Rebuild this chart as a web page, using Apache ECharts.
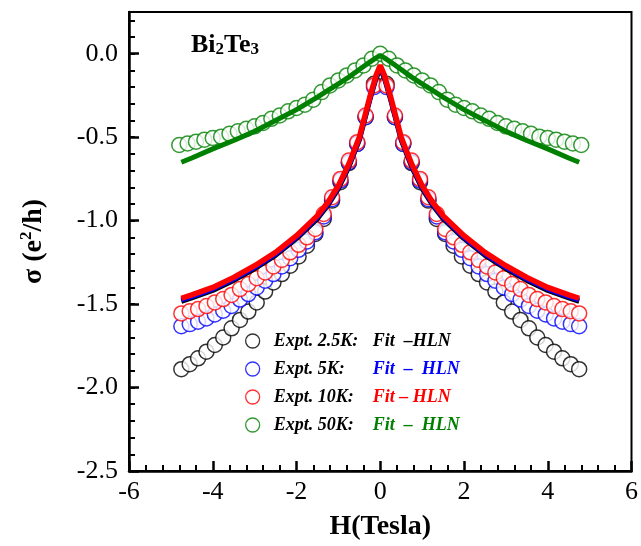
<!DOCTYPE html>
<html>
<head>
<meta charset="utf-8">
<script src="https://cdn.jsdelivr.net/npm/echarts@6/dist/echarts.min.js"></script>
<style>
  html, body { margin: 0; padding: 0; background: #fff; }
  #chart { width: 641px; height: 546px; }
</style>
</head>
<body>
<div id="chart"></div>
<script>
// field values (right half, curves are symmetric in H)
var exptH = [0.15, 0.35, 0.55, 0.75, 0.95, 1.15, 1.35, 1.55, 1.75, 1.95, 2.15, 2.35,
             2.55, 2.75, 2.95, 3.15, 3.35, 3.55, 3.75, 3.95, 4.15, 4.35, 4.55, 4.75];
var sigma2_5K = [-0.18, -0.38, -0.54, -0.655, -0.77, -0.88, -0.99, -1.08, -1.15, -1.215, -1.27, -1.32,
                 -1.37, -1.425, -1.49, -1.545, -1.595, -1.645, -1.70, -1.745, -1.785, -1.825, -1.86, -1.89];
var sigma5K = [-0.20, -0.38, -0.54, -0.65, -0.76, -0.872, -0.975, -1.07, -1.125, -1.175, -1.225, -1.275,
               -1.32, -1.36, -1.40, -1.44, -1.473, -1.511, -1.54, -1.562, -1.586, -1.606, -1.62, -1.633];
var sigma10K = [-0.19, -0.37, -0.53, -0.64, -0.75, -0.86, -0.96, -1.05, -1.10, -1.145, -1.19, -1.235,
                -1.275, -1.31, -1.345, -1.38, -1.41, -1.445, -1.47, -1.49, -1.512, -1.53, -1.543, -1.556];

var greenH = [0, 0.2, 0.4, 0.6, 0.8, 1.0, 1.2, 1.4, 1.6, 1.8, 2.0, 2.2, 2.4,
              2.6, 2.8, 3.0, 3.2, 3.4, 3.6, 3.8, 4.0, 4.2, 4.4, 4.6, 4.8];
var sigma50K = [0.0, -0.03, -0.07, -0.10, -0.13, -0.16, -0.19, -0.23, -0.275, -0.305, -0.325, -0.345, -0.37,
                -0.39, -0.415, -0.435, -0.45, -0.465, -0.48, -0.497, -0.505, -0.515, -0.527, -0.538, -0.547];

// HLN fits
var fitH = [0, 0.1, 0.25, 0.5, 0.75, 1.0, 1.25, 1.5, 2.0, 2.5, 3.0, 3.5, 4.0, 4.5, 4.75];
var fit2_5K = [-0.088, -0.148, -0.278, -0.518, -0.678, -0.808, -0.908, -0.988, -1.108, -1.208, -1.288, -1.358, -1.418, -1.463, -1.483];
var fit5K = [-0.08, -0.14, -0.27, -0.51, -0.67, -0.80, -0.90, -0.98, -1.10, -1.20, -1.28, -1.35, -1.41, -1.455, -1.475];
var fit10K = [-0.07, -0.13, -0.26, -0.50, -0.66, -0.79, -0.89, -0.97, -1.09, -1.19, -1.27, -1.34, -1.40, -1.445, -1.465];
var fit50K = [-0.01, -0.025, -0.05, -0.095, -0.14, -0.18, -0.22, -0.26, -0.335, -0.40, -0.465, -0.52, -0.57, -0.625, -0.65];

var xTicks = [-6, -4, -2, 0, 2, 4, 6];
var yTicks = [-2.5, -2.0, -1.5, -1.0, -0.5, 0.0];

var names = ['Expt. 2.5K:', 'Expt. 5K:', 'Expt. 10K:', 'Expt. 50K:'];
var fitText = ['Fit  \u2013HLN', 'Fit  \u2013  HLN', 'Fit \u2013 HLN', 'Fit  \u2013  HLN'];
var colors = ['#000000', '#0000ff', '#ff0000', '#008000'];
var richKeys = ['k', 'b', 'r', 'g'];

function mirror(hs, vs) {
  var pts = [];
  for (var i = hs.length - 1; i >= 0; i--) {
    if (hs[i] !== 0) pts.push([-hs[i], vs[i]]);
  }
  for (var j = 0; j < hs.length; j++) pts.push([hs[j], vs[j]]);
  return pts;
}

var font = 'Liberation Serif, Times New Roman, serif';
var myChart = echarts.init(document.getElementById('chart'));

var exptData = [
  mirror(exptH, sigma2_5K),
  mirror(exptH, sigma5K),
  mirror(exptH, sigma10K),
  mirror(greenH, sigma50K)
];
var fitData = [
  mirror(fitH, fit2_5K),
  mirror(fitH, fit5K),
  mirror(fitH, fit10K),
  mirror(fitH, fit50K)
];
var fitWidth = [5, 5, 5.5, 5];

var series = [];
for (var i = 0; i < 4; i++) {
  series.push({
    name: names[i],
    type: 'scatter',
    symbol: 'circle',
    symbolSize: 15,
    z: 2,
    data: exptData[i],
    itemStyle: { color: '#ffffff', borderColor: colors[i], borderWidth: 1.5 }
  });
}
for (var k = 0; k < 4; k++) {
  series.push({
    name: 'fit' + k,
    type: 'line',
    showSymbol: false,
    symbol: 'none',
    z: 3,
    data: fitData[k],
    lineStyle: { color: colors[k], width: fitWidth[k] }
  });
}

var legendRich = {
  e: { fontFamily: font, fontSize: 18, fontWeight: 'bold', fontStyle: 'italic', color: '#000', width: 99, padding: [0, 0, 0, 9] }
};
for (var r = 0; r < 4; r++) {
  legendRich[richKeys[r]] = { fontFamily: font, fontSize: 18, fontWeight: 'bold', fontStyle: 'italic', color: colors[r] };
}

var option = {
  animation: false,
  backgroundColor: '#ffffff',
  title: {
    text: '{m|Bi}{s|2}{m|Te}{s|3}',
    left: 186,
    top: 16,
    textStyle: {
      rich: {
        m: { fontFamily: font, fontSize: 26, fontWeight: 'bold', color: '#000', verticalAlign: 'bottom' },
        s: { fontFamily: font, fontSize: 17, fontWeight: 'bold', color: '#000', padding: [20, 0, 0, 0] }
      }
    }
  },
  legend: {
    orient: 'vertical',
    left: 240,
    top: 327,
    itemWidth: 14,
    itemHeight: 14,
    itemGap: 10,
    icon: 'circle',
    data: names.map(function (n, i) {
      return { name: n, itemStyle: { color: '#ffffff', borderColor: colors[i], borderWidth: 1.3 } };
    }),
    formatter: function (name) {
      var i = names.indexOf(name);
      return '{e|' + name + '}{' + richKeys[i] + '|' + fitText[i] + '}';
    },
    textStyle: { rich: legendRich }
  },
  grid: {
    left: 129, right: 8, top: 12, bottom: 73,
    show: true, borderColor: '#000', borderWidth: 2
  },
  xAxis: {
    type: 'value',
    min: xTicks[0],
    max: xTicks[xTicks.length - 1],
    interval: 2,
    name: 'H(Tesla)',
    nameLocation: 'middle',
    nameGap: 42,
    nameTextStyle: { fontFamily: font, fontSize: 28, fontWeight: 'bold', color: '#000' },
    axisLine: { show: true, onZero: false, lineStyle: { color: '#000', width: 2.5 } },
    axisTick: { show: true, inside: true, length: 10, lineStyle: { color: '#000', width: 2.5 } },
    minorTick: { show: true, splitNumber: 5, length: 6, lineStyle: { color: '#000', width: 2 } },
    splitLine: { show: false },
    axisLabel: { fontFamily: font, fontSize: 26, color: '#000', margin: 8 }
  },
  yAxis: [{
    type: 'value',
    min: yTicks[0],
    max: 0.25,
    interval: 0.5,
    name: '{a|\u03c3 (e}{s|2}{a|/h)}',
    nameLocation: 'middle',
    nameGap: 80,
    nameRotate: 90,
    nameTextStyle: {
      rich: {
        a: { fontFamily: font, fontSize: 28, fontWeight: 'bold', color: '#000' },
        s: { fontFamily: font, fontSize: 17, fontWeight: 'bold', color: '#000', padding: [0, 0, 14, 0] }
      }
    },
    axisLine: { show: true, onZero: false, lineStyle: { color: '#000', width: 2.5 } },
    axisTick: { show: true, inside: true, length: 10, lineStyle: { color: '#000', width: 2.5 } },
    splitLine: { show: false },
    axisLabel: {
      fontFamily: font, fontSize: 26, color: '#000', margin: 11,
      showMaxLabel: false,
      formatter: function (v) { return v.toFixed(1); }
    }
  }, {
    // minor ticks every 0.1
    type: 'value',
    position: 'left',
    offset: 0,
    min: yTicks[0],
    max: 0.25,
    interval: 0.1,
    axisLine: { show: false, onZero: false },
    axisTick: { show: true, inside: true, length: 6, lineStyle: { color: '#000', width: 2 } },
    splitLine: { show: false },
    axisLabel: { show: false }
  }],
  series: series
};
myChart.setOption(option);
</script>
</body>
</html>
